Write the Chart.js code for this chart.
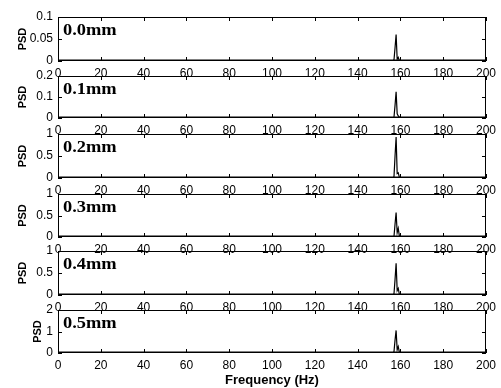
<!DOCTYPE html>
<html><head><meta charset="utf-8">
<script src="https://cdn.jsdelivr.net/npm/chart.js@4.4.0/dist/chart.umd.min.js"></script>
<style>
html,body{margin:0;padding:0;background:#fff;}
#wrap{position:relative;width:501px;height:388px;background:#fff;}
#wrap canvas{position:absolute;left:0;top:0;}
</style></head><body><div id="wrap"></div>
<script>
// ---- data ----
const freq   = [0, 150, 156, 157, 157.5, 158, 158.5, 159, 159.5, 160, 200];
const psd00  = [0, 0, 0, 0.002, 0.03, 0.06, 0.004, 0.008, 0.001, 0, 0];
const psd01  = [0, 0, 0, 0.003, 0.06, 0.125, 0.02, 0.01, 0.004, 0.002, 0];
const psd02  = [0, 0, 0, 0.02, 0.5, 0.93, 0.1, 0.12, 0.02, 0, 0];
const psd03  = [0, 0, 0, 0.01, 0.3, 0.57, 0.1, 0.2, 0.03, 0, 0];
const psd04  = [0, 0, 0, 0.02, 0.35, 0.72, 0.1, 0.15, 0.02, 0, 0];
const psd05  = [0, 0, 0, 0.05, 0.6, 1.05, 0.15, 0.3, 0.05, 0, 0];
const series = [psd00, psd01, psd02, psd03, psd04, psd05];
const panelLabels = ['0.0mm', '0.1mm', '0.2mm', '0.3mm', '0.4mm', '0.5mm'];
const yMax  = [0.1, 0.2, 1, 1, 1, 2];
const yStep = [0.05, 0.1, 0.5, 0.5, 0.5, 1];
const xTicks = [0, 20, 40, 60, 80, 100, 120, 140, 160, 180, 200];
const yTitle = 'PSD';
const xTitle = 'Frequency (Hz)';

// ---- layout ----
const W = 501, H = 388;
const panelTop    = [17, 76, 134, 194, 251, 310];
const panelBottom = [61, 118, 178, 237, 295, 353];

const boxPlugin = {
  id: 'box',
  afterDatasetsDraw(chart, args, opts) {
    const {ctx, chartArea: a, scales: {x, y}} = chart;
    ctx.save();
    ctx.strokeStyle = '#000';
    ctx.lineWidth = 1;
    ctx.strokeRect(a.left + 0.5, a.top + 0.5, a.right - a.left - 1, a.bottom - a.top - 1);
    ctx.beginPath();
    ctx.moveTo(a.left, a.bottom - 1); ctx.lineTo(a.right, a.bottom - 1);
    x.ticks.forEach(t => {
      const px = Math.round(x.getPixelForValue(t.value)) + 0.5;
      ctx.moveTo(px, a.bottom); ctx.lineTo(px, a.bottom - 4);
      ctx.moveTo(px, a.top); ctx.lineTo(px, a.top + 4);
    });
    y.ticks.forEach(t => {
      const py = Math.round(y.getPixelForValue(t.value)) + 0.5;
      ctx.moveTo(a.left, py); ctx.lineTo(a.left + 4, py);
      ctx.moveTo(a.right, py); ctx.lineTo(a.right - 4, py);
    });
    ctx.stroke();
    ctx.fillStyle = '#000';
    ctx.font = 'bold 16px "Liberation Serif", "Times New Roman", serif';
    ctx.textBaseline = 'alphabetic';
    ctx.translate(a.left + 5, a.top + 18);
    ctx.scale(1.15, 1);
    ctx.fillText(opts.label, 0, 0);
    ctx.restore();
  }
};

const fmt = v => String(+Number(v).toFixed(4));
const tickFont = {family: '"Liberation Sans", Arial, sans-serif', size: 12};

const wrap = document.getElementById('wrap');
series.forEach((vals, i) => {
  const last = i === series.length - 1;
  const xH = last ? 35 : 18;
  const cv = document.createElement('canvas');
  cv.width = W; cv.height = H;
  wrap.appendChild(cv);
  new Chart(cv, {
    type: 'line',
    data: {
      datasets: [{
        data: freq.map((f, k) => ({x: f, y: vals[k]})),
        borderColor: '#000', borderWidth: 1.2, pointRadius: 0, tension: 0, fill: false
      }]
    },
    options: {
      responsive: false, animation: false, devicePixelRatio: 1,
      layout: {padding: {top: panelTop[i], bottom: H - panelBottom[i] - xH, left: 0, right: 13}},
      plugins: {legend: {display: false}, tooltip: {enabled: false}, box: {label: panelLabels[i]}},
      scales: {
        x: {
          type: 'linear', min: xTicks[0], max: xTicks[xTicks.length - 1],
          afterBuildTicks: s => { s.ticks = xTicks.map(v => ({value: v})); },
          afterFit: s => { s.height = xH; },
          grid: {display: false, drawTicks: false},
          border: {display: false},
          ticks: {color: '#000', font: tickFont, padding: 5, maxRotation: 0, autoSkip: false, callback: fmt},
          title: {display: last, text: xTitle, color: '#000', padding: {top: 0, bottom: 0},
                  font: {family: '"Liberation Sans", Arial, sans-serif', size: 13, weight: 'bold'}}
        },
        y: {
          type: 'linear', min: 0, max: yMax[i],
          ticks: {stepSize: yStep[i], color: '#000', font: tickFont, padding: 5, callback: fmt},
          afterFit: s => { s.width = 58; },
          grid: {display: false, drawTicks: false},
          border: {display: false},
          title: {display: true, text: yTitle, color: '#000', padding: {top: last ? 31 : 16, bottom: 0},
                  font: {family: '"Liberation Sans", Arial, sans-serif', size: 11, weight: 'bold'}}
        }
      }
    },
    plugins: [boxPlugin]
  });
});
</script>
</body></html>
